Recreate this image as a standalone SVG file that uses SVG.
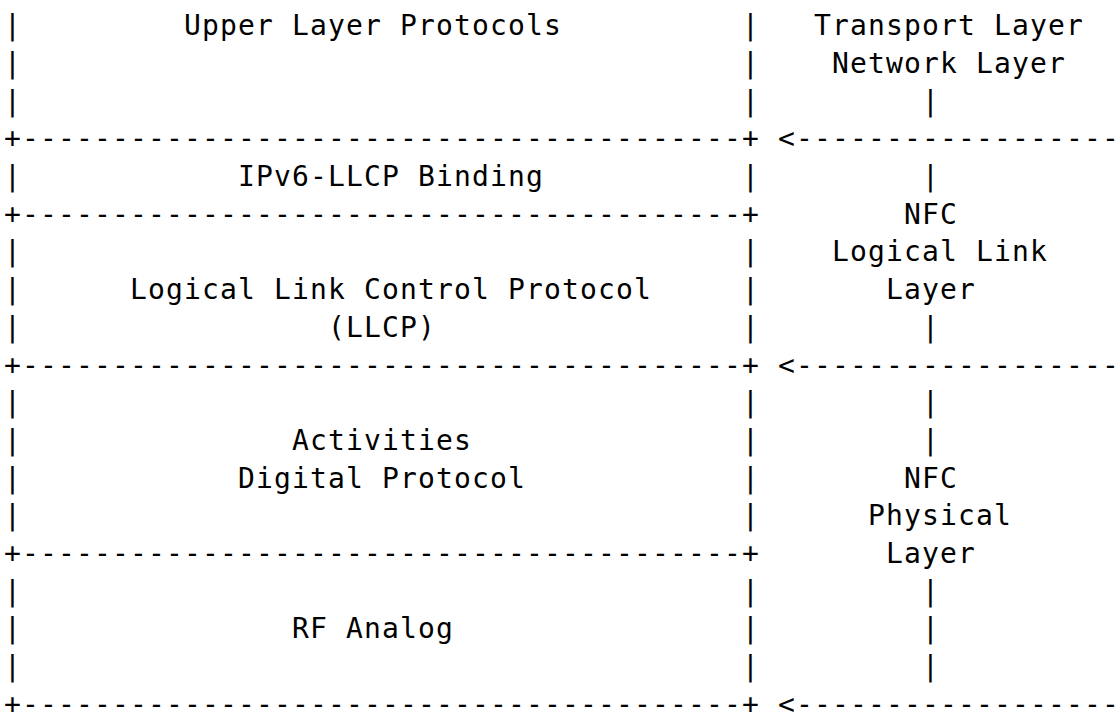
<svg xmlns="http://www.w3.org/2000/svg" width="1120" height="712" viewBox="0 0 1120 712">
  <style>
    /* monospace character grid: 18px per column, 37.7px per row */
    text { font-family: "DejaVu Sans Mono", "Liberation Mono", monospace; font-size: 28px; letter-spacing: 1.14px; fill: #000; white-space: pre; }
  </style>
  <rect width="1120" height="712" fill="#fff"/>

  <!-- horizontal rules of the protocol stack -->
  <g id="stack-rules">
    <text x="4" y="148.3">+----------------------------------------+</text>
    <text x="4" y="223.7">+----------------------------------------+</text>
    <text x="4" y="374.5">+----------------------------------------+</text>
    <text x="4" y="563.0">+----------------------------------------+</text>
    <text x="4" y="713.8">+----------------------------------------+</text>
  </g>

  <!-- stack layers -->
  <g id="upper-layer-protocols">
    <text x="4" y="35.2">|</text><text x="742" y="35.2">|</text>
    <text x="4" y="72.9">|</text><text x="742" y="72.9">|</text>
    <text x="4" y="110.6">|</text><text x="742" y="110.6">|</text>
    <text x="184" y="35.2">Upper Layer Protocols</text>
  </g>

  <g id="ipv6-llcp-binding">
    <text x="4" y="186.0">|</text><text x="742" y="186.0">|</text>
    <text x="238" y="186.0">IPv6-LLCP Binding</text>
  </g>

  <g id="llcp">
    <text x="4" y="261.4">|</text><text x="742" y="261.4">|</text>
    <text x="4" y="299.1">|</text><text x="742" y="299.1">|</text>
    <text x="4" y="336.8">|</text><text x="742" y="336.8">|</text>
    <text x="130" y="299.1">Logical Link Control Protocol</text>
    <text x="328" y="336.8">(LLCP)</text>
  </g>

  <g id="digital-protocol">
    <text x="4" y="412.2">|</text><text x="742" y="412.2">|</text>
    <text x="4" y="449.9">|</text><text x="742" y="449.9">|</text>
    <text x="4" y="487.6">|</text><text x="742" y="487.6">|</text>
    <text x="4" y="525.3">|</text><text x="742" y="525.3">|</text>
    <text x="292" y="449.9">Activities</text>
    <text x="238" y="487.6">Digital Protocol</text>
  </g>

  <g id="rf-analog">
    <text x="4" y="600.7">|</text><text x="742" y="600.7">|</text>
    <text x="4" y="638.4">|</text><text x="742" y="638.4">|</text>
    <text x="4" y="676.1">|</text><text x="742" y="676.1">|</text>
    <text x="292" y="638.4">RF Analog</text>
  </g>

  <!-- layer names on the right -->
  <g id="transport-network-layer">
    <text x="814" y="35.2">Transport Layer</text>
    <text x="832" y="72.9">Network Layer</text>
  </g>

  <g id="nfc-logical-link-layer">
    <text x="904" y="223.7">NFC</text>
    <text x="832" y="261.4">Logical Link</text>
    <text x="886" y="299.1">Layer</text>
  </g>

  <g id="nfc-physical-layer">
    <text x="904" y="487.6">NFC</text>
    <text x="868" y="525.3">Physical</text>
    <text x="886" y="563.0">Layer</text>
  </g>

  <!-- boundary arrows and range bars -->
  <g id="connectors">
    <text x="778" y="148.3">&lt;------------------</text>
    <text x="778" y="374.5">&lt;------------------</text>
    <text x="778" y="713.8">&lt;------------------</text>
    <text x="922" y="110.6">|</text>
    <text x="922" y="186.0">|</text>
    <text x="922" y="336.8">|</text>
    <text x="922" y="412.2">|</text>
    <text x="922" y="449.9">|</text>
    <text x="922" y="600.7">|</text>
    <text x="922" y="638.4">|</text>
    <text x="922" y="676.1">|</text>
  </g>
</svg>
